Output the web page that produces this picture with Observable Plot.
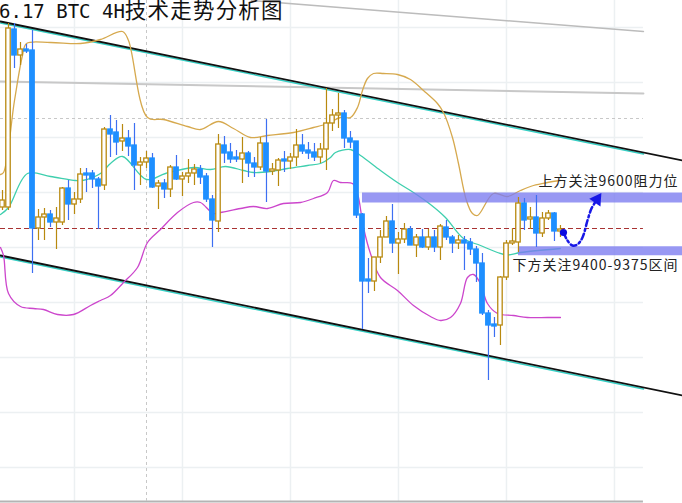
<!DOCTYPE html>
<html><head><meta charset="utf-8">
<script src="https://cdn.jsdelivr.net/npm/d3@7"></script>
<script src="https://cdn.jsdelivr.net/npm/@observablehq/plot@0.6"></script>
<style>
body{margin:0;background:#fff;}
#chart{position:relative;width:682px;height:503px;overflow:hidden;}
</style>
</head><body><div id="chart"></div>
<script>
// ---- data (4H candles, price in USD) ----
const titleLatin = "6.17 BTC 4H";
const titleCJK = "技术走势分析图";
const open = [9560,9560,10272,10168,10192,10188,9476,9520,9532,9500,
 9500,9636,9572,9592,9696,9696,9672,9648,9872,9860,
 9824,9836,9808,9728,9740,9756,9644,9656,9632,9720,
 9672,9684,9696,9712,9684,9592,9504,9808,9780,9760,
 9752,9776,9736,9720,9816,9704,9708,9752,9744,9760,
 9808,9788,9780,9760,9792,9896,9928,9936,9836,9824,
 9532,9272,9264,9360,9440,9504,9416,9432,9472,9408,
 9440,9400,9440,9400,9480,9440,9416,9428,9420,9392,
 9336,9136,9092,9088,9280,9416,9420,9576,9512,9520,
 9456,9516,9536,9464];
const close = [9588,10276,10168,10192,10184,9476,9520,9532,9500,9516,
 9636,9572,9592,9692,9688,9672,9644,9872,9852,9820,
 9836,9804,9728,9740,9756,9640,9656,9632,9720,9672,
 9684,9696,9712,9680,9592,9508,9812,9776,9752,9752,
 9776,9736,9720,9816,9704,9712,9748,9744,9760,9808,
 9784,9776,9760,9792,9896,9928,9936,9836,9820,9528,
 9264,9264,9360,9440,9504,9416,9432,9472,9408,9440,
 9400,9440,9400,9484,9440,9416,9428,9416,9392,9336,
 9136,9088,9084,9280,9416,9424,9576,9508,9520,9456,
 9516,9536,9464,9472];
const high = [9628,10296,10296,10220,10212,10268,9552,9556,9548,9560,
 9640,9668,9620,9716,9716,9708,9680,9880,9928,9908,
 9892,9868,9896,9760,9784,9776,9668,9672,9728,9768,
 9700,9752,9732,9728,9696,9608,9852,9844,9816,9788,
 9840,9784,9760,9840,9912,9736,9756,9784,9776,9872,
 9852,9820,9816,9816,10036,9952,10016,9948,9864,9824,
 9536,9356,9360,9468,9524,9572,9460,9496,9484,9452,
 9472,9472,9468,9492,9508,9448,9448,9444,9436,9404,
 9376,9148,9120,9284,9428,9476,9600,9596,9560,9608,
 9540,9548,9540,9488];
const low = [9548,9548,10116,10128,10176,9296,9428,9428,9480,9392,
 9488,9508,9532,9576,9620,9636,9472,9628,9760,9768,
 9784,9764,9628,9648,9716,9636,9552,9596,9600,9668,
 9604,9656,9648,9652,9580,9400,9460,9736,9736,9740,
 9656,9680,9680,9708,9580,9688,9644,9700,9712,9724,
 9772,9752,9744,9736,9708,9864,9876,9796,9796,9516,
 9072,9216,9224,9336,9440,9376,9292,9416,9408,9360,
 9396,9388,9380,9348,9428,9376,9392,9308,9368,9260,
 9128,8868,9040,9008,9268,9408,9380,9468,9472,9400,
 9440,9508,9424,9440];

// Bollinger bands [bar, price]
const bollUpper = [[-0.33,9692],[0.17,9700],[2,9988],[3.33,10168],[4,10216],[8,10220],[13,10216],[16.33,10232],[20,10264],[21,10228],[24.17,9920],[26.83,9912],[30.83,9884],[33,9872],[36,9904],[38.5,9876],[41.33,9840],[44.17,9848],[48.5,9860],[51.83,9880],[54.17,9896],[56.33,9920],[58,9920],[59.17,9960],[60,10028],[60.83,10076],[61.83,10096],[63.5,10096],[65.83,10092],[68,10072],[70.17,10028],[72.5,9976],[73.5,9940],[75,9840],[76,9736],[77.33,9588],[78.33,9536],[79.17,9528],[81.83,9616],[84.17,9604],[86.33,9628],[88.5,9648],[90.83,9660],[93,9668]];
const bollMid = [[-0.33,9532],[1,9560],[4.17,9696],[8,9684],[12.17,9668],[13.33,9668],[16.33,9696],[18,9736],[20,9764],[24,9672],[27.17,9696],[31.83,9720],[34.67,9712],[37.17,9724],[40.17,9708],[41.83,9700],[44.67,9704],[47.5,9716],[50.83,9728],[53,9736],[54.67,9760],[55.5,9780],[58,9792],[59.67,9768],[63,9708],[65.83,9660],[68.5,9620],[71.33,9572],[73.83,9520],[76.83,9436],[79.67,9408],[82.5,9380],[84.17,9370],[86.33,9380],[93,9396]];
const bollLower = [[-0.33,9400],[0.17,9368],[1,9216],[3,9164],[5.17,9156],[6.83,9152],[9.17,9132],[11.83,9132],[14.67,9168],[16.33,9188],[18,9208],[20.17,9260],[22.5,9320],[24.17,9420],[26.33,9472],[29.17,9540],[31.83,9580],[33,9580],[35.17,9536],[36.33,9540],[39.67,9556],[41.83,9564],[44.17,9556],[46.83,9576],[49.67,9580],[51.83,9596],[54.17,9620],[55.17,9668],[56.33,9660],[58.33,9656],[59.17,9616],[60.17,9480],[61.33,9376],[63,9280],[65.83,9228],[68.5,9168],[71.33,9124],[73,9108],[74.67,9120],[76.33,9176],[77.5,9280],[78.5,9292],[79.67,9256],[80.83,9176],[82.5,9136],[85.17,9128],[87.5,9120],[90.83,9120],[93,9120]];

// channel & reference lines [bar, price]
const upperTrend = [[-0.33,10304],[113.33,9748]];
const lowerTrend = [[-0.33,9368],[113.33,8808]];
const greyLineA = [[41.5,10388],[106.83,10264]];
const greyLineB = [[-0.33,10064],[106.83,10016]];
const gridPrices = [10280,10060,9840,9620,9400,9180,8960,8740,8520];
const gridBars = [12,30,48,66,84,102];
const crossBar = 24, crossPrice = 9916;
const lastPrice = 9476;
const resistance = 9600;
const support = [9400,9375];
const forecastPath = [[93.5,9460],[94.17,9428],[95,9408],[95.83,9412],[96.67,9440],[97.5,9508],[98.17,9556],[98.83,9582]];
const resistanceLabel = "上方关注9600阻力位";
const supportLabel = "下方关注9400-9375区间";

// ---- drawing ----
const candles = open.map((o, i) => ({i, open: o, close: close[i], high: high[i], low: low[i], up: close[i] >= o}));
const UP = "#b8890f", DOWN = "#1e8fff", DOWNWICK = "#3d6ff2";
const X0 = -1/3, X1 = 113.34, XG = 106.83, YB = 8384, YT = 10388;
const at = (line, x) => { const [[a, pa], [b, pb]] = line; return [[a, pa], [x, pa + (pb - pa) * (x - a) / (b - a)]]; };
const last = forecastPath[forecastPath.length - 1], prev = forecastPath[forecastPath.length - 2];

const plot = Plot.plot({
  width: 682, height: 503, margin: 0,
  x: {type: "linear", domain: [X0, X1], axis: null},
  y: {type: "linear", domain: [8376, 10388], axis: null},
  color: {type: "identity"},
  marks: [
    Plot.ruleY(gridPrices, {x1: X0, x2: XG, stroke: "#ecf0f2", strokeWidth: 1.5}),
    Plot.ruleX(gridBars, {y1: YB, y2: YT, stroke: "#ecf0f2", strokeWidth: 1.5}),
    Plot.ruleY([YB], {x1: X0, x2: XG, stroke: "#b4b4b4", strokeWidth: 2}),
    Plot.ruleX([crossBar], {y1: YB, y2: YT, stroke: "#c8c8c8", strokeDasharray: "3,3"}),
    Plot.ruleY([crossPrice], {x1: X0, x2: XG, stroke: "#c8c8c8", strokeDasharray: "3,3"}),
    Plot.ruleY([lastPrice], {x1: X0, x2: XG, stroke: "#a83232", strokeWidth: 1.2, strokeDasharray: "5,3"}),
    Plot.line(greyLineA, {stroke: "#bcbcbc", strokeWidth: 1.5}),
    Plot.line(greyLineB, {stroke: "#c8c8c8", strokeWidth: 2}),
    Plot.line(at(upperTrend, XG), {stroke: "#34cfc4", strokeWidth: 1.5, dy: 1.5}),
    Plot.line(upperTrend, {stroke: "#111", strokeWidth: 1.8}),
    Plot.line(at(lowerTrend, XG), {stroke: "#34cfc4", strokeWidth: 1.5, dy: 1.5}),
    Plot.line(lowerTrend, {stroke: "#111", strokeWidth: 1.8}),
    Plot.line(bollUpper, {stroke: "#d6a94e", strokeWidth: 1.3, curve: "catmull-rom"}),
    Plot.line(bollMid, {stroke: "#3fcfae", strokeWidth: 1.3, curve: "catmull-rom"}),
    Plot.line(bollLower, {stroke: "#cc46cc", strokeWidth: 1.3, curve: "catmull-rom"}),
    Plot.ruleY([resistance], {x1: 60, x2: X1, stroke: "#7b7bf0", strokeOpacity: 0.78, strokeWidth: 10}),
    Plot.ruleY([(support[0] + support[1]) / 2], {x1: 86, x2: X1, stroke: "#7b7bf0", strokeOpacity: 0.78, strokeWidth: 9}),
    Plot.ruleX(candles, {x: "i", y1: "low", y2: "high", stroke: d => d.up ? UP : DOWNWICK, strokeWidth: 1.2}),
    Plot.rect(candles, {x1: d => d.i - 0.37, x2: d => d.i + 0.37, y1: "open", y2: "close",
      fill: d => d.up ? "#ffffff" : DOWN, stroke: d => d.up ? UP : DOWN, strokeWidth: 1.3}),
    Plot.line(forecastPath, {stroke: "#1717e6", strokeWidth: 2.5, strokeDasharray: "6,3,2,3", curve: "catmull-rom"}),
    Plot.dot([forecastPath[0]], {r: 3.6, fill: "#0a0ae0"}),
    Plot.dot([[last[0] + (last[0] - prev[0]) * 0.4, last[1] + (last[1] - prev[1]) * 0.4]], {symbol: "triangle", r: 5, fill: "#1717e6", rotate: 34}),
    Plot.text([resistanceLabel], {x: 89.33, y: 9662, text: d => d, textAnchor: "start", fontSize: 14, fill: "#222", fontFamily: "Noto Sans CJK SC"}),
    Plot.text([supportLabel], {x: 85, y: 9328, text: d => d, textAnchor: "start", fontSize: 14, fill: "#222", fontFamily: "Noto Sans CJK SC"})
  ]
});
document.getElementById("chart").appendChild(plot);
d3.select(plot).selectAll("text").filter(function(){ return this.textContent.includes("关注"); })
  .style("letter-spacing", "1px");
const t = d3.select(plot).append("text").attr("x", -1).attr("y", 17.5).attr("fill", "#111").attr("text-anchor", "start");
t.append("tspan").attr("font-family", "DejaVu Sans Mono").attr("font-size", 19).text(titleLatin);
t.append("tspan").attr("font-family", "Noto Sans CJK SC").attr("font-size", 21.5).attr("letter-spacing", 1.2).text(titleCJK);
</script>
</body></html>
